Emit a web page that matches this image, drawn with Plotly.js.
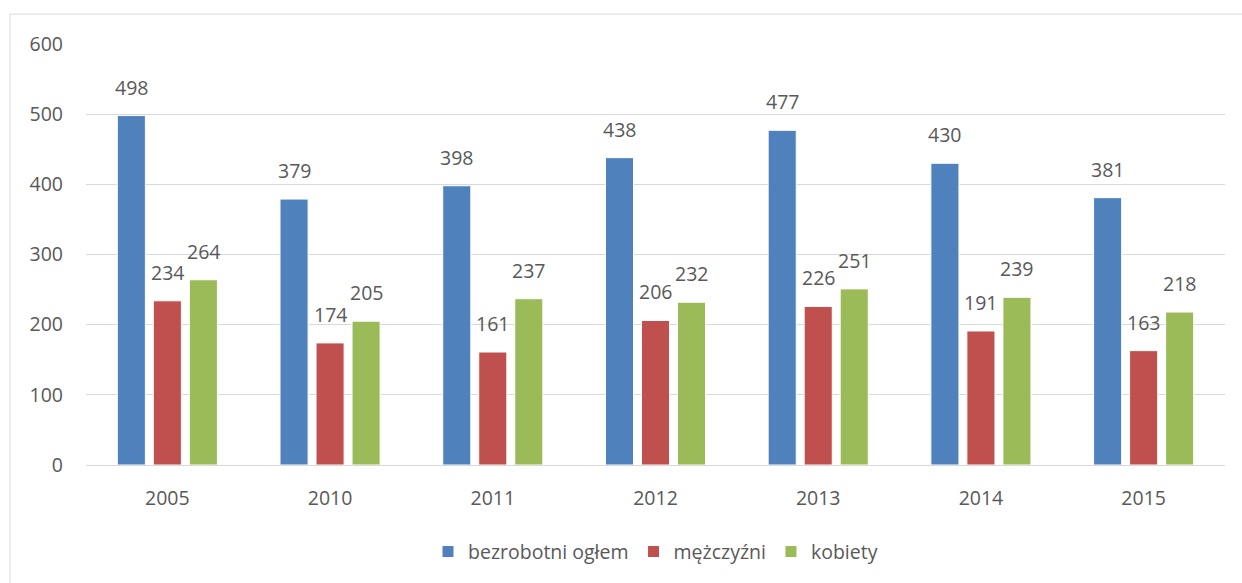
<!DOCTYPE html>
<html><head><meta charset="utf-8">
<script src="https://cdn.plot.ly/plotly-3.0.1.min.js"></script>
<style>html,body{margin:0;padding:0;background:#fff}#chart{width:1242px;height:583px}</style>
</head><body><div id="chart"></div>
<script>
const years = ['2005','2010','2011','2012','2013','2014','2015'];
const seriesNames = ['bezrobotni ogłem','mężczyźni','kobiety'];
const ogolem = [498,379,398,438,477,430,381];
const mezczyzni = [234,174,161,206,226,191,163];
const kobiety = [264,205,237,232,251,239,218];
const colors = ['#4F81BD','#C0504D','#9BBB59'];
const yTicks = [0,100,200,300,400,500,600];

const FONT = 'Open Sans, Noto Sans, sans-serif';
const TXT = '#595959';
const FS = 19.5;
const allSeries = [ogolem, mezczyzni, kobiety];

const traces = allSeries.map((vals,i)=>({
  type:'bar', x:years, y:vals, name:seriesNames[i],
  marker:{color:colors[i], line:{color:'#ffffff', width:1}},
  hoverinfo:'none'
}));

const annotations = [];
allSeries.forEach((vals,i)=>{
  vals.forEach((v,j)=>{
    annotations.push({x:j, y:v, xref:'x', yref:'y', text:String(v),
      showarrow:false, yanchor:'bottom', xanchor:'center', xshift:(i-1)*36, yshift:13,
      font:{family:FONT, size:FS, color:TXT}});
  });
});

const layout = {
  width:1242, height:583,
  margin:{l:86, r:17, t:44, b:116},
  paper_bgcolor:'#ffffff', plot_bgcolor:'#ffffff',
  barmode:'group', bargap:0.336, bargroupgap:0.22,
  font:{family:FONT, size:FS, color:TXT},
  xaxis:{type:'category', range:[-0.5,6.5], autorange:false, showgrid:false, showline:true,
    linecolor:'#D9D9D9', linewidth:1,
    ticks:'', ticklabelstandoff:16, tickfont:{family:FONT, size:FS, color:TXT}},
  yaxis:{range:[0,600], autorange:false, tickvals:yTicks, showgrid:true, gridcolor:'#D9D9D9', gridwidth:1,
    zeroline:false, showline:false, ticks:'', ticklabelstandoff:22,
    tickfont:{family:FONT, size:FS, color:TXT}},
  legend:{orientation:'h', x:0.5, xanchor:'center', y:-0.16, yanchor:'top',
    font:{family:FONT, size:FS, color:TXT}, itemwidth:30, traceorder:'normal'},
  annotations:annotations,
  shapes:[{type:'rect', xref:'paper', yref:'paper', x0:-0.0667, x1:1.2, y0:-0.6, y1:1.071,
    line:{color:'#D9D9D9', width:1}, fillcolor:'rgba(0,0,0,0)', layer:'below'}]
};

Plotly.newPlot('chart', traces, layout, {displayModeBar:false, staticPlot:true});
</script></body></html>
